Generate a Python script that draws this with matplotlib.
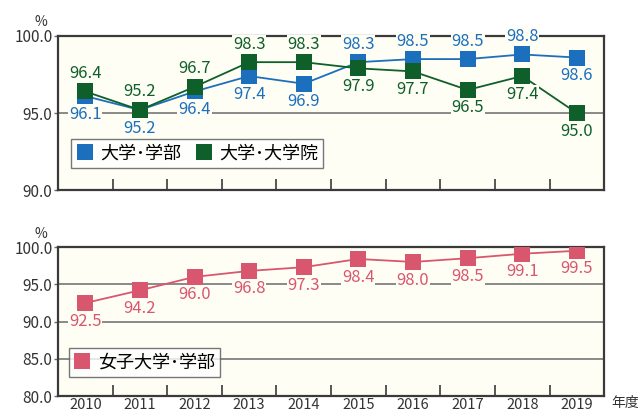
import matplotlib
matplotlib.use("Agg")
import matplotlib.pyplot as plt
from matplotlib.ticker import FixedLocator

plt.rcParams['font.family'] = ['Noto Sans CJK JP', 'DejaVu Sans']

years = ['2010', '2011', '2012', '2013', '2014', '2015', '2016', '2017', '2018', '2019']

# 大学・学部 / 大学・大学院
univ_undergrad = [96.1, 95.2, 96.4, 97.4, 96.9, 98.3, 98.5, 98.5, 98.8, 98.6]
univ_graduate = [96.4, 95.2, 96.7, 98.3, 98.3, 97.9, 97.7, 96.5, 97.4, 95.0]
# 女子大学・学部
women_undergrad = [92.5, 94.2, 96.0, 96.8, 97.3, 98.4, 98.0, 98.5, 99.1, 99.5]

top_yticks = [90.0, 95.0, 100.0]
bottom_yticks = [80.0, 85.0, 90.0, 95.0, 100.0]

# label placement: +1 above the marker, -1 below
undergrad_side = [-1, -1, -1, -1, -1, 1, 1, 1, 1, -1]
graduate_side = [1, 1, 1, 1, 1, -1, -1, -1, -1, -1]
women_side = [-1] * 10

BLUE = '#1c6fbd'
GREEN = '#0f5f2b'
PINK = '#d9566f'
BG = '#fefef4'
FRAME = '#3a3a3a'
GRID = '#6a6a6a'

fig = plt.figure(figsize=(6.41, 4.18), dpi=100)
ax1 = fig.add_axes([0.0905, 0.545, 0.852, 0.369])
ax2 = fig.add_axes([0.0905, 0.052, 0.852, 0.357])

x = list(range(len(years)))


def style_axes(ax, yticks, show_years):
    ax.set_facecolor(BG)
    ax.set_xlim(-0.5, len(years) - 0.5)
    ax.set_ylim(yticks[0], yticks[-1])
    for s in ax.spines.values():
        s.set_color(FRAME)
        s.set_linewidth(1.6)
    ax.set_yticks(yticks)
    ax.set_yticklabels(['%.1f' % v for v in yticks], fontsize=11, color='#333333')
    ax.tick_params(axis='y', length=3, width=1, color=GRID, pad=1)
    for v in yticks[1:-1]:
        ax.axhline(v, color=GRID, lw=1.1, zorder=1)
    # year labels at category centres, tick marks between categories
    ax.set_xticks(x)
    if show_years:
        ax.set_xticklabels(years, fontsize=10.5, color='#333333')
    else:
        ax.set_xticklabels([])
    ax.tick_params(axis='x', which='major', length=0, pad=1)
    ax.xaxis.set_minor_locator(FixedLocator([i + 0.5 for i in x[:-1]]))
    ax.tick_params(axis='x', which='minor', direction='in', length=8, width=1.2, color=FRAME)
    ax.text(-0.02, 1.09, '%', transform=ax.transAxes, ha='right', va='center',
            fontsize=10, color='#333333')


def plot_series(ax, values, sides, color, label):
    ax.plot(x, values, color=color, lw=1.3, marker='s', markersize=12,
            markeredgewidth=0, label=label, zorder=3)
    for xi, v, side in zip(x, values, sides):
        ax.annotate('%.1f' % v, (xi, v), xytext=(0, 13 * side), textcoords='offset points',
                    ha='center', va='center', fontsize=12, color=color, zorder=4,
                    bbox=dict(boxstyle='square,pad=0.05', fc=BG, ec='none'))


style_axes(ax1, top_yticks, False)
plot_series(ax1, univ_undergrad, undergrad_side, BLUE, '大学･学部')
plot_series(ax1, univ_graduate, graduate_side, GREEN, '大学･大学院')

style_axes(ax2, bottom_yticks, True)
plot_series(ax2, women_undergrad, women_side, PINK, '女子大学･学部')

for ax, anchor in ((ax1, (0.024, 0.33)), (ax2, (0.02, 0.325))):
    h, l = ax.get_legend_handles_labels()
    leg = ax.legend([plt.Line2D([], [], ls='none', marker='s', markersize=12,
                                color=hh.get_color(), markeredgewidth=0) for hh in h], l,
                    loc='upper left', bbox_to_anchor=anchor, ncol=2, fontsize=13,
                    frameon=True, fancybox=False, handlelength=0.9, handletextpad=0.4,
                    columnspacing=0.8, borderpad=0.3, borderaxespad=0)
    leg.get_frame().set_edgecolor('#555555')
    leg.get_frame().set_linewidth(1.0)
    leg.get_frame().set_facecolor('white')

fig.text(0.975, 0.035, '年度', ha='center', va='center', fontsize=10, color='#333333')

fig.savefig('out.png', dpi=100, facecolor='white')
